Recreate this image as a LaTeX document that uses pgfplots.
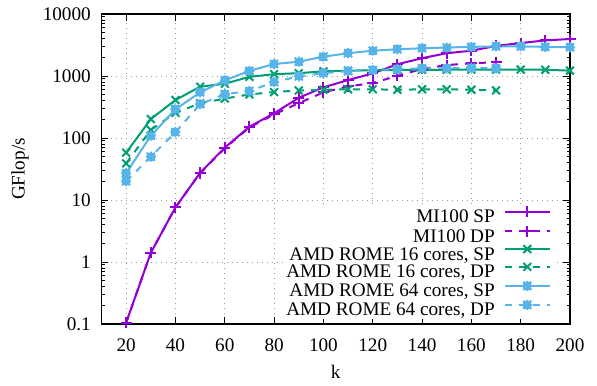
\documentclass[border=0pt]{standalone}
\usepackage{fontspec}
\setmainfont{Liberation Serif}
\usepackage{pgfplots}
\pgfplotsset{compat=1.18}
\definecolor{c1}{HTML}{9400D3}
\definecolor{c2}{HTML}{009E73}
\definecolor{c3}{HTML}{56B4E9}
\pgfdeclareplotmark{gpstar}{%
  \pgfpathrectangle{\pgfqpoint{-0.6\pgfplotmarksize}{-0.6\pgfplotmarksize}}{\pgfqpoint{1.2\pgfplotmarksize}{1.2\pgfplotmarksize}}%
  \pgfusepathqfillstroke
  \pgfpathmoveto{\pgfqpoint{-\pgfplotmarksize}{0pt}}\pgfpathlineto{\pgfqpoint{\pgfplotmarksize}{0pt}}%
  \pgfpathmoveto{\pgfqpoint{0pt}{-\pgfplotmarksize}}\pgfpathlineto{\pgfqpoint{0pt}{\pgfplotmarksize}}%
  \pgfpathmoveto{\pgfqpoint{-0.8\pgfplotmarksize}{-0.8\pgfplotmarksize}}\pgfpathlineto{\pgfqpoint{0.8\pgfplotmarksize}{0.8\pgfplotmarksize}}%
  \pgfpathmoveto{\pgfqpoint{-0.8\pgfplotmarksize}{0.8\pgfplotmarksize}}\pgfpathlineto{\pgfqpoint{0.8\pgfplotmarksize}{-0.8\pgfplotmarksize}}%
  \pgfusepathqstroke}
\newcommand{\ls}{\rule[-5.8bp]{0pt}{18.8bp}}
\begin{document}
\fontsize{19.2bp}{22bp}\selectfont
\begin{tikzpicture}
\begin{axis}[name=ax,
  width=468.5bp, height=310bp, scale only axis,
  xmin=10, xmax=200, ymin=0.1, ymax=10000, ymode=log,
  xtick={20,40,60,80,100,120,140,160,180,200},
  xticklabels={20,40,60,80,100,120,140,160,180,200},
  ytick={0.1,1,10,100,1000,10000},
  yticklabels={0.1,1,10,100,1000,10000},
  tick align=inside, major tick length=7bp, minor tick length=3.5bp,
  axis line style={line width=1.2bp},
  every tick/.style={black, line width=0.8bp},
  grid=major,
  major grid style={gray!80, dash pattern=on 1bp off 4bp, line width=0.8bp},
  xticklabel style={anchor=base, yshift=-27.5bp},
  yticklabel style={anchor=east, inner sep=0pt, xshift=-10.5bp},
  xlabel={k}, ylabel={GFlop/s},
  every axis x label/.style={at={(axis description cs:0.5,-0.155)}, anchor=center},
  every axis y label/.style={at={(axis description cs:-0.174,0.5)}, anchor=center, rotate=90},
  legend cell align=right, legend plot pos=right,
  legend style={at={(axis description cs:1,0)}, anchor=south east, xshift=-17bp, yshift=5.1bp,
    draw=none, fill=white, inner xsep=2bp, inner ysep=0pt, row sep=0pt, column sep=9bp,
    nodes={inner sep=0pt}},
  legend image code/.code={\draw[mark repeat=2,mark phase=2] plot coordinates {(0bp,6bp) (22.5bp,6bp) (45bp,6bp)};},
  every axis plot/.append style={line width=2bp, mark size=5.5bp},
]
\addplot[c1, mark=+] coordinates {(20,0.105) (30,1.41) (40,7.6) (50,27.5) (60,70) (70,152) (80,250) (90,445) (100,656) (110,860) (120,1100) (130,1545) (140,1940) (150,2330) (160,2560) (170,3050) (180,3400) (190,3750) (200,3950)};
\addlegendentry{\ls MI100 SP}
\addplot[c1, mark=+, dash pattern=on 7bp off 7bp, mark options={solid}] coordinates {(20,0.105) (30,1.41) (40,7.6) (50,27) (60,68) (70,148) (80,240) (90,365) (100,545) (110,680) (120,770) (130,1005) (140,1300) (150,1500) (160,1600) (170,1670)};
\addlegendentry{\ls MI100 DP}
\addplot[c2, mark=x] coordinates {(20,58) (30,202) (40,410) (50,672) (60,750) (70,970) (80,1070) (90,1110) (100,1190) (110,1220) (120,1240) (130,1250) (140,1260) (150,1260) (160,1270) (170,1270) (180,1270) (190,1260) (200,1220)};
\addlegendentry{\ls AMD ROME 16 cores, SP}
\addplot[c2, mark=x, dash pattern=on 7bp off 7bp, mark options={solid}] coordinates {(20,39) (30,135) (40,255) (50,363) (60,432) (70,505) (80,550) (90,585) (100,600) (110,610) (120,610) (130,600) (140,610) (150,610) (160,600) (170,585)};
\addlegendentry{\ls AMD ROME 16 cores, DP}
\addplot[c3, mark=gpstar, mark size=5bp, mark options={fill=c3}] coordinates {(20,27) (30,109) (40,290) (50,546) (60,850) (70,1210) (80,1560) (90,1700) (100,2050) (110,2330) (120,2560) (130,2700) (140,2800) (150,2880) (160,2950) (170,3000) (180,3000) (190,2950) (200,2900)};
\addlegendentry{\ls AMD ROME 64 cores, SP}
\addplot[c3, mark=gpstar, mark size=5bp, dash pattern=on 7bp off 7bp, mark options={solid, fill=c3}] coordinates {(20,20) (30,50) (40,124) (50,351) (60,510) (70,570) (80,800) (90,985) (100,1110) (110,1200) (120,1250) (130,1290) (140,1330) (150,1330) (160,1360) (170,1330)};
\addlegendentry{\ls AMD ROME 64 cores, DP}
\end{axis}
\path (ax.south west) ++(-101.5bp,-60bp) rectangle ([shift={(27bp,14bp)}]ax.north east);
\end{tikzpicture}
\end{document}
